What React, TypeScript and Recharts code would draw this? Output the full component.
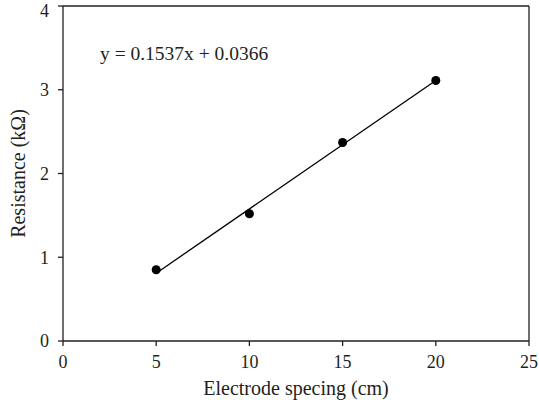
import React from 'react'
import { ScatterChart, Scatter, XAxis, YAxis, ReferenceLine, Label } from 'recharts'

// measured points
const spacingCm = [5, 10, 15, 20]
const resistanceKOhm = [0.85, 1.52, 2.37, 3.11]

// fitted line endpoints as drawn
const fitX = [5, 20]
const fitY = [0.81, 3.11]

const xTicks = [0, 5, 10, 15, 20, 25]
const yTicks = [0, 1, 2, 3, 4]

const equationText = 'y = 0.1537x + 0.0366'

const points = spacingCm.map((x, i) => ({ x, y: resistanceKOhm[i] }))
const fit = fitX.map((x, i) => ({ x, y: fitY[i] }))

const ink = '#231f20'
const font = '"Liberation Serif", "DejaVu Serif", serif'
const tickStyle = { fontSize: 18, fill: ink, fontFamily: font }

export default function App() {
  return (
    <div style={{ position: 'absolute', left: 0, top: 0, width: 539, height: 410, background: '#fff' }}>
      <ScatterChart width={539} height={410} margin={{ top: 6, right: 10, bottom: 9, left: 28 }}>
        <XAxis
          type="number"
          dataKey="x"
          domain={[0, 25]}
          ticks={xTicks}
          height={60}
          tick={tickStyle}
          tickSize={5}
          tickMargin={9}
          stroke={ink}
          strokeWidth={1.3}
          allowDataOverflow
        >
          <Label value="Electrode specing (cm)" position="insideBottom" offset={6} style={{ ...tickStyle, fontSize: 20 }} />
        </XAxis>
        <YAxis
          type="number"
          dataKey="y"
          domain={[0, 4]}
          ticks={yTicks}
          width={35}
          tick={tickStyle}
          tickSize={5}
          tickMargin={9}
          stroke={ink}
          strokeWidth={1.3}
          allowDataOverflow
        >
          <Label
            value="Resistance (kΩ)"
            angle={-90}
            position="insideLeft"
            offset={-10}
            style={{ ...tickStyle, fontSize: 20, textAnchor: 'middle' }}
          />
        </YAxis>
        <ReferenceLine y={4} stroke={ink} strokeWidth={1.3} />
        <ReferenceLine x={25} stroke={ink} strokeWidth={1.3} />
        <Scatter
          data={fit}
          line={{ stroke: '#000', strokeWidth: 1.3 }}
          shape={() => <g />}
          isAnimationActive={false}
        />
        <Scatter data={points} fill="#000" shape="circle" isAnimationActive={false} />
      </ScatterChart>
      <div
        style={{
          position: 'absolute',
          left: 100,
          top: 43,
          fontFamily: font,
          fontSize: 19.5,
          color: ink,
          whiteSpace: 'nowrap',
        }}
      >
        {equationText}
      </div>
    </div>
  )
}
